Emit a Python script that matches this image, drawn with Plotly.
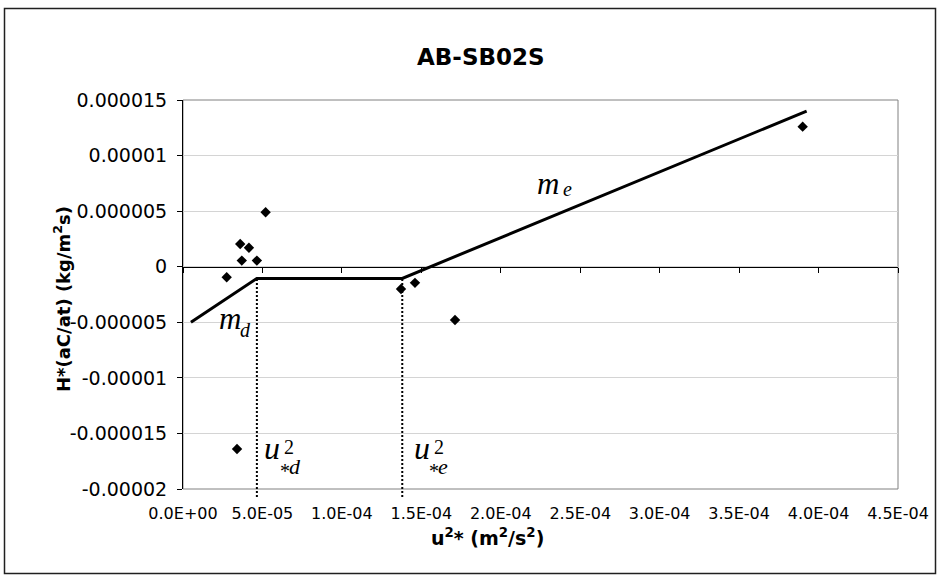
import plotly.graph_objects as go

# Observed points: squared friction velocity vs. scaled flux
u2_obs = [2.75e-5, 3.6e-5, 4.15e-5, 3.7e-5, 4.65e-5, 5.2e-5, 3.4e-5,
          1.372e-4, 1.46e-4, 1.712e-4, 3.9e-4]
h_obs = [-0.95e-6, 2.05e-6, 1.7e-6, 0.55e-6, 0.55e-6, 4.9e-6, -16.4e-6,
         -2.0e-6, -1.45e-6, -4.8e-6, 12.6e-6]

# Piecewise fit: deposition slope, plateau, emission slope
fit_u2 = [5e-6, 4.65e-5, 1.38e-4, 3.925e-4]
fit_h = [-5.0e-6, -1.05e-6, -1.05e-6, 1.4e-5]

# Threshold values u*d^2 and u*e^2
u2_thresh = [4.65e-5, 1.38e-4]

x_tickvals = [0, 5e-5, 1e-4, 1.5e-4, 2e-4, 2.5e-4, 3e-4, 3.5e-4, 4e-4, 4.5e-4]
x_ticktext = ["0.0E+00", "5.0E-05", "1.0E-04", "1.5E-04", "2.0E-04",
              "2.5E-04", "3.0E-04", "3.5E-04", "4.0E-04", "4.5E-04"]
y_tickvals = [1.5e-5, 1e-5, 5e-6, 0, -5e-6, -1e-5, -1.5e-5, -2e-5]
y_ticktext = ["0.000015", "0.00001", "0.000005", "0", "-0.000005",
              "-0.00001", "-0.000015", "-0.00002"]

X_RANGE = [0, 4.5e-4]
Y_RANGE = [-2e-5, 1.5e-5]

W, H = 940, 578
ML, MR, MT, MB = 183, 42, 100, 89
PW, PH = W - ML - MR, H - MT - MB


def px_x(px):
    return (px - ML) / PW


def px_y(py):
    return (H - MB - py) / PH


def y_paper(v):
    return (v - Y_RANGE[0]) / (Y_RANGE[1] - Y_RANGE[0])


TICK_FONT = dict(family="DejaVu Sans", color="black")
SERIF = "Liberation Serif"

fig = go.Figure()

fig.add_trace(go.Scatter(
    x=fit_u2, y=fit_h, mode="lines",
    line=dict(color="black", width=3),
    showlegend=False, hoverinfo="skip",
))
fig.add_trace(go.Scatter(
    x=u2_obs, y=h_obs, mode="markers",
    marker=dict(symbol="diamond", size=8, color="black"),
    showlegend=False, cliponaxis=False,
))

shapes = []
# plot area frame
shapes.append(dict(type="rect", xref="paper", yref="paper", x0=0, x1=1, y0=0, y1=1,
                   line=dict(color="#808080", width=1), layer="below"))
# chart frame
shapes.append(dict(type="rect", xref="paper", yref="paper",
                   x0=px_x(4.5), x1=px_x(935.5), y0=px_y(573.5), y1=px_y(8.5),
                   line=dict(color="#202020", width=1.5)))
# dotted drop lines from the plateau to the threshold values
for u in u2_thresh:
    shapes.append(dict(type="line", xref="x", yref="paper",
                       x0=u, x1=u, y0=px_y(497), y1=y_paper(fit_h[1]),
                       line=dict(color="black", width=2, dash="2px,2px")))

annotations = [
    dict(text="<b>AB-SB02S</b>", xref="paper", yref="paper",
         x=px_x(481), y=px_y(42), showarrow=False,
         font=dict(family="DejaVu Sans", size=23, color="black")),
    dict(text="<b>u<sup>2</sup>* (m<sup>2</sup>/s<sup>2</sup>)</b>", xref="paper", yref="paper",
         x=px_x(487), y=px_y(551), showarrow=False,
         font=dict(family="DejaVu Sans", size=19, color="black")),
    dict(text="<b>H*(aC/at) (kg/m<sup>2</sup>s)</b>", xref="paper", yref="paper",
         x=px_x(48), y=px_y(299), showarrow=False, textangle=-90,
         font=dict(family="DejaVu Sans", size=18, color="black")),
    # slope labels
    dict(text="<i>m</i>", xref="paper", yref="paper", x=px_x(217), y=px_y(318),
         showarrow=False, font=dict(family=SERIF, size=31, color="black")),
    dict(text="<i>d</i>", xref="paper", yref="paper", x=px_x(238), y=px_y(330),
         showarrow=False, font=dict(family=SERIF, size=20, color="black")),
    dict(text="<i>m</i>", xref="paper", yref="paper", x=px_x(548), y=px_y(164),
         showarrow=False, font=dict(family=SERIF, size=31, color="black")),
    dict(text="<i>e</i>", xref="paper", yref="paper", x=px_x(567), y=px_y(176),
         showarrow=False, font=dict(family=SERIF, size=20, color="black")),
]

# threshold labels u*^2, stacked superscript and subscript
for u, sub, shifts in [(u2_thresh[0], "d", (15.5, 32.5, 28, 38.5)),
                       (u2_thresh[1], "e", (20, 37, 32, 41))]:
    s_u, s_2, s_star, s_sub = shifts
    annotations += [
        dict(text="<i>u</i>", xref="x", yref="paper", x=u, xshift=s_u, y=px_y(468),
             showarrow=False, font=dict(family=SERIF, size=32, color="black")),
        dict(text="2", xref="x", yref="paper", x=u, xshift=s_2, y=px_y(459.5),
             showarrow=False, font=dict(family=SERIF, size=20, color="black")),
        dict(text="*", xref="x", yref="paper", x=u, xshift=s_star, y=px_y(484),
             showarrow=False, font=dict(family=SERIF, size=20, color="black")),
        dict(text=f"<i>{sub}</i>", xref="x", yref="paper", x=u, xshift=s_sub, y=px_y(480.5),
             showarrow=False, font=dict(family=SERIF, size=22, color="black")),
    ]

fig.update_layout(
    width=W, height=H,
    margin=dict(l=ML, r=MR, t=MT, b=MB, pad=0),
    paper_bgcolor="white", plot_bgcolor="white",
    shapes=shapes, annotations=annotations,
    xaxis=dict(range=X_RANGE, tickvals=x_tickvals, ticktext=x_ticktext,
               showgrid=False, zeroline=False, showline=False,
               ticks="outside", ticklen=10, tickcolor="rgba(0,0,0,0)",
               tickfont=dict(size=16, **TICK_FONT), fixedrange=True),
    # axis crossing at zero, carrying the tick marks
    xaxis2=dict(range=X_RANGE, tickvals=x_tickvals, overlaying="x", anchor="free",
                position=y_paper(0), side="bottom", showticklabels=False,
                showgrid=False, zeroline=False, showline=True, linecolor="black",
                linewidth=1, ticks="outside", ticklen=5, tickcolor="black"),
    yaxis=dict(range=Y_RANGE, tickvals=y_tickvals, ticktext=y_ticktext,
               showgrid=True, gridcolor="#d4d4d4", gridwidth=1,
               zeroline=False, showline=True, linecolor="black", linewidth=1,
               ticks="outside", ticklen=5, tickcolor="black", ticklabelstandoff=6,
               tickfont=dict(size=19, **TICK_FONT)),
)

# placeholder trace so the crossing axis is drawn
fig.add_trace(go.Scatter(x=[None], y=[None], xaxis="x2", showlegend=False, hoverinfo="skip"))

fig.write_html("out.html")
